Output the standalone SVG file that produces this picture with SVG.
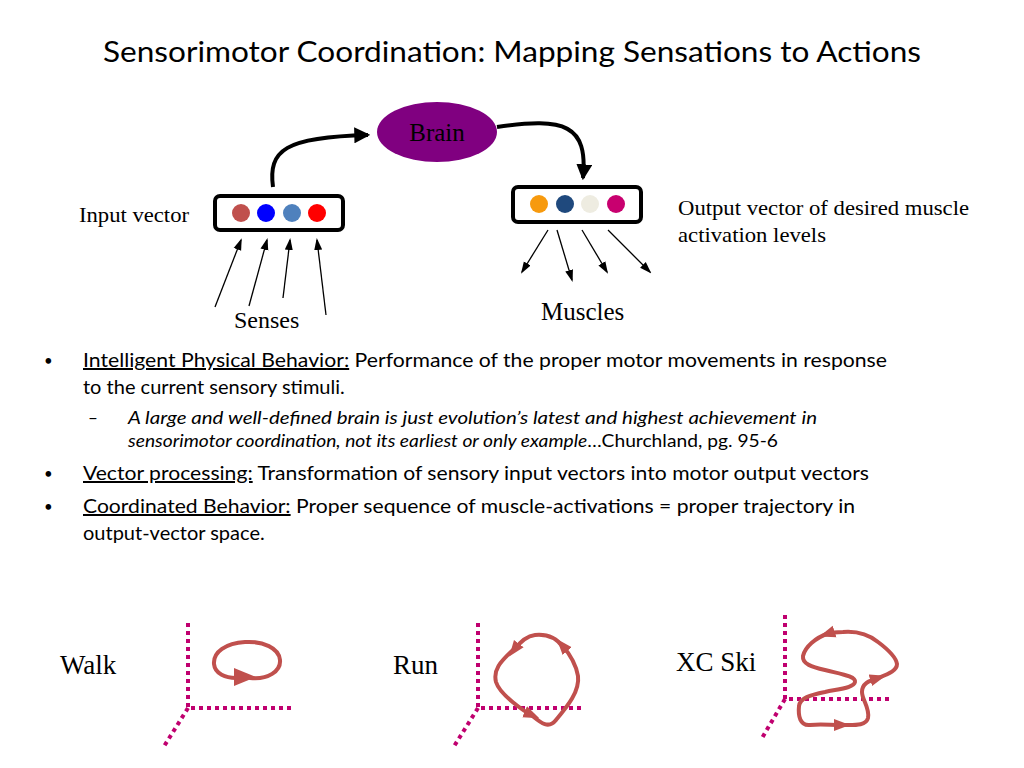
<svg xmlns="http://www.w3.org/2000/svg" width="1024" height="768" viewBox="0 0 1024 768">
<style>
.serif{font-family:"Liberation Serif","Times New Roman",serif;fill:#000}
.sans{font-family:Lato,"Carlito","Liberation Sans",sans-serif;fill:#000}
.box{fill:#fff;stroke:#000;stroke-width:4}
.blk{fill:none;stroke:#000;stroke-width:4}
.thin{fill:none;stroke:#000;stroke-width:1.3}
.axis{fill:none;stroke:#C0006F;stroke-width:4;stroke-dasharray:4 4}
.loop{fill:none;stroke:#C0504D;stroke-width:4;stroke-linecap:round;stroke-linejoin:round}
.head{fill:#C0504D}
</style>
<defs>
<marker id="bigArrow" markerUnits="userSpaceOnUse" markerWidth="16" markerHeight="16" refX="12" refY="7" orient="auto" viewBox="0 0 14 14">
<path d="M0,0 L14,7 L0,14 Z" fill="#000"/>
</marker>
<marker id="smallArrow" markerUnits="userSpaceOnUse" markerWidth="12" markerHeight="10" refX="10" refY="4" orient="auto" viewBox="0 0 12 8">
<path d="M0,0 L12,4 L0,8 Z" fill="#000"/>
</marker>
<marker id="redArrow" markerUnits="userSpaceOnUse" markerWidth="16" markerHeight="14" refX="8" refY="6" orient="auto" viewBox="0 0 16 12">
<path d="M0,0 L16,6 L0,12 Z" fill="#C0504D"/>
</marker>
</defs>
<rect width="1024" height="768" fill="#fff"/>

<text class="sans" x="103" y="62" font-size="29" textLength="818" lengthAdjust="spacingAndGlyphs">Sensorimotor Coordination: Mapping Sensations to Actions</text>

<g id="connectors">
<path class="blk" d="M273,187 C268,150 285,137 368,135" marker-end="url(#bigArrow)"/>
<path class="blk" d="M497,127 C565,117 588,125 583,178" marker-end="url(#bigArrow)"/>
<line class="thin" x1="215" y1="307" x2="241" y2="240" marker-end="url(#smallArrow)"/>
<line class="thin" x1="249" y1="306" x2="267" y2="240" marker-end="url(#smallArrow)"/>
<line class="thin" x1="283" y1="298" x2="290" y2="240" marker-end="url(#smallArrow)"/>
<line class="thin" x1="326" y1="315" x2="317" y2="240" marker-end="url(#smallArrow)"/>
<line class="thin" x1="548" y1="230" x2="522" y2="272" marker-end="url(#smallArrow)"/>
<line class="thin" x1="557" y1="230" x2="572" y2="280" marker-end="url(#smallArrow)"/>
<line class="thin" x1="582" y1="230" x2="607" y2="272" marker-end="url(#smallArrow)"/>
<line class="thin" x1="608" y1="230" x2="650" y2="272" marker-end="url(#smallArrow)"/>
</g>

<g id="brain">
<ellipse cx="437" cy="132" rx="60" ry="30" fill="#800080"/>
<text class="serif" x="437" y="141" font-size="25" text-anchor="middle">Brain</text>
</g>

<g id="input-vector">
<rect class="box" x="215" y="196" width="128" height="34" rx="5"/>
<circle cx="241" cy="213" r="9" fill="#C0504D"/>
<circle cx="266" cy="213" r="9" fill="#0000FF"/>
<circle cx="292" cy="213" r="9" fill="#4F81BD"/>
<circle cx="317" cy="213" r="9" fill="#FF0000"/>
<text class="serif" x="79" y="222" font-size="21" textLength="110" lengthAdjust="spacingAndGlyphs">Input vector</text>
</g>

<g id="output-vector">
<rect class="box" x="513" y="187" width="128" height="35" rx="5"/>
<circle cx="539" cy="204" r="9" fill="#F79A0E"/>
<circle cx="565" cy="204" r="9" fill="#1F497D"/>
<circle cx="590" cy="204" r="9" fill="#EEECE1"/>
<circle cx="616" cy="204" r="9" fill="#C8006F"/>
<text class="serif" x="678" y="215" font-size="21" textLength="291" lengthAdjust="spacingAndGlyphs">Output vector of desired muscle</text>
<text class="serif" x="678" y="242" font-size="21" textLength="148" lengthAdjust="spacingAndGlyphs">activation levels</text>
</g>

<g id="senses"><text class="serif" x="234" y="328" font-size="24">Senses</text></g>
<g id="muscles"><text class="serif" x="541" y="320" font-size="25">Muscles</text></g>

<g id="bullets" class="sans">
<text class="sans" x="44" y="366" font-size="15">•</text>
<text class="sans" x="83" y="367" font-size="20" textLength="804" lengthAdjust="spacingAndGlyphs"><tspan text-decoration="underline">Intelligent Physical Behavior:</tspan> Performance of the proper motor movements in response</text>
<text class="sans" x="83" y="394" font-size="20">to the current sensory stimuli.</text>
<text class="sans" x="88" y="424" font-size="17">–</text>
<text class="sans" x="128" y="424" font-size="17" font-style="italic" textLength="689" lengthAdjust="spacingAndGlyphs">A large and well-defined brain is just evolution’s latest and highest achievement in</text>
<text class="sans" x="128" y="447" font-size="17" textLength="650" lengthAdjust="spacingAndGlyphs"><tspan font-style="italic">sensorimotor coordination, not its earliest or only example</tspan>…Churchland, pg. 95-6</text>
<text class="sans" x="44" y="479" font-size="15">•</text>
<text class="sans" x="83" y="480" font-size="20" textLength="786" lengthAdjust="spacingAndGlyphs"><tspan text-decoration="underline">Vector processing:</tspan> Transformation of sensory input vectors into motor output vectors</text>
<text class="sans" x="44" y="512" font-size="15">•</text>
<text class="sans" x="83" y="513" font-size="20" textLength="772" lengthAdjust="spacingAndGlyphs"><tspan text-decoration="underline">Coordinated Behavior:</tspan> Proper sequence of muscle-activations = proper trajectory in</text>
<text class="sans" x="83" y="540" font-size="20">output-vector space.</text>
</g>

<g id="walk">
<text class="serif" x="60" y="674" font-size="27">Walk</text>
<path class="axis" d="M188,623 L188,708 L294,708 M188,708 L163,748"/>
<path class="loop" d="M250,678 C268,680 281,671 280,660 C279,648 263,641 245,642 C226,643 213,652 214,664 C215,674 226,678 236,678"/>
<path class="head" d="M234,668 L256,677 L234,686 Z"/>
</g>

<g id="run">
<text class="serif" x="393" y="674" font-size="27">Run</text>
<path class="axis" d="M478,623 L478,708 L584,708 M478,708 L453,748"/>
<path class="loop" d="M513,650 C500,662 493,670 496,682 C500,695 525,712 532,715" marker-end="url(#redArrow)"/>
<path class="loop" d="M530,714 C540,722 548,730 556,720 C566,708 580,692 578,676 C576,664 568,652 562,645" marker-end="url(#redArrow)"/>
<path class="loop" d="M563,647 C555,636 545,634 535,635 C526,636 520,642 514,650" marker-end="url(#redArrow)"/>
</g>

<g id="xcski">
<text class="serif" x="676" y="671" font-size="27">XC Ski</text>
<path class="axis" d="M785,615 L785,699 L892,699 M785,699 L762,738"/>
<path class="loop" d="M843,725 C855,725 866,726 868,718 C870,708 862,700 862,692 C862,684 868,681 878,678" marker-end="url(#redArrow)"/>
<path class="loop" d="M876,679 C888,674 897,671 897,664 C896,656 886,648 878,642 C868,634 855,631 843,632 C838,632 833,632 827,634" marker-end="url(#redArrow)"/>
<path class="loop" d="M829,633 C815,638 805,647 803,656 C802,664 812,667 825,670 C840,674 856,676 855,682 C854,688 838,689 825,692 C810,695 800,698 799,706 C798,716 800,726 810,725 C820,724 830,725 842,725" marker-end="url(#redArrow)"/>
</g>
</svg>
